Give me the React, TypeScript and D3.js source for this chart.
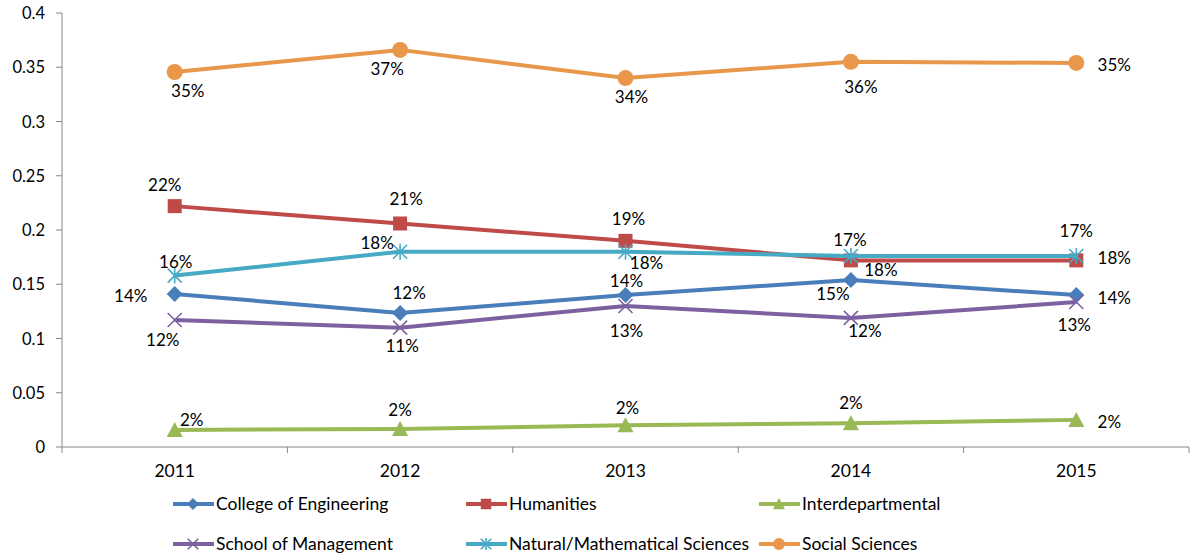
import React from "react";
import * as d3 from "d3";

const years = ["2011", "2012", "2013", "2014", "2015"];
const yTicks = [0, 0.05, 0.1, 0.15, 0.2, 0.25, 0.3, 0.35, 0.4];

const seriesNames = [
  "College of Engineering",
  "Humanities",
  "Interdepartmental",
  "School of Management",
  "Natural/Mathematical Sciences",
  "Social Sciences",
];
const engineering = [0.141, 0.1235, 0.14, 0.154, 0.14];
const humanities = [0.222, 0.206, 0.19, 0.172, 0.172];
const interdepartmental = [0.0157, 0.0166, 0.02, 0.022, 0.025];
const management = [0.117, 0.11, 0.13, 0.119, 0.1336];
const natural = [0.158, 0.18, 0.18, 0.176, 0.176];
const social = [0.3456, 0.366, 0.34, 0.355, 0.354];

const engineeringLabels = ["14%", "12%", "14%", "15%", "14%"];
const humanitiesLabels = ["22%", "21%", "19%", "17%", "17%"];
const interLabels = ["2%", "2%", "2%", "2%", "2%"];
const managementLabels = ["12%", "11%", "13%", "12%", "13%"];
const naturalLabels = ["16%", "18%", "18%", "18%", "18%"];
const socialLabels = ["35%", "37%", "34%", "36%", "35%"];

// label placement offsets (dx, dy) relative to marker, for label centre
const engineeringPos = [[-44, 2], [9, -20], [1, -14], [-18, 14], [38, 3]];
const humanitiesPos = [[-10, -21], [6, -24], [3, -22], [-1, -20], [0, -29]];
const interPos = [[17, -10], [0, -19], [2, -17], [0, -20], [33, 2]];
const managementPos = [[-12, 20], [2, 18], [1, 25], [14, 13], [-2, 23]];
const naturalPos = [[1, -14], [-23, -9], [21, 11], [30, 14], [38, 2]];
const socialPos = [[13, 19], [-13, 19], [6, 19], [10, 25], [38, 2]];

const colors = ["#4A7EBB", "#BE4B48", "#98B954", "#7D60A0", "#46AAC5", "#E8974B"];
const markers = ["diamond", "square", "triangle", "x", "asterisk", "circle"];

const FONT = "Lato, 'Open Sans', sans-serif";

function Marker({ type, x, y, color, s = 1 }: { type: string; x: number; y: number; color: string; s?: number }) {
  const k = (v: number) => v * s;
  switch (type) {
    case "diamond":
      return <path d={`M${x},${y - k(8)}L${x + k(8)},${y}L${x},${y + k(8)}L${x - k(8)},${y}Z`} fill={color} />;
    case "square":
      return <rect x={x - k(7)} y={y - k(7)} width={k(14)} height={k(14)} fill={color} />;
    case "triangle":
      return <path d={`M${x},${y - k(8)}L${x + k(8)},${y + k(7)}L${x - k(8)},${y + k(7)}Z`} fill={color} />;
    case "x":
      return (
        <path
          d={`M${x - k(7)},${y - k(7)}L${x + k(7)},${y + k(7)}M${x - k(7)},${y + k(7)}L${x + k(7)},${y - k(7)}`}
          stroke={color}
          strokeWidth={1.6}
        />
      );
    case "asterisk":
      return (
        <path
          d={`M${x - k(7)},${y - k(7)}L${x + k(7)},${y + k(7)}M${x - k(7)},${y + k(7)}L${x + k(7)},${y - k(7)}M${x},${y - k(8)}L${x},${y + k(8)}`}
          stroke={color}
          strokeWidth={1.6}
        />
      );
    default:
      return <circle cx={x} cy={y} r={k(8)} fill={color} />;
  }
}

export default function App() {
  const width = 1191;
  const height = 560;
  const x0 = 62;
  const x1 = 1189;
  const yScale = d3.scaleLinear().domain([0, 0.4]).range([447, 13]);
  const xBand = d3.scaleBand().domain(years).range([x0, x1]);
  const xc = (y: string) => (xBand(y) as number) + xBand.bandwidth() / 2;

  const allValues = [engineering, humanities, interdepartmental, management, natural, social];
  const allLabels = [engineeringLabels, humanitiesLabels, interLabels, managementLabels, naturalLabels, socialLabels];
  const allPos = [engineeringPos, humanitiesPos, interPos, managementPos, naturalPos, socialPos];

  const line = d3
    .line<number>()
    .x((_, i) => xc(years[i]))
    .y((d) => yScale(d));

  const order = [0, 1, 2, 3, 4, 5];

  const legendX = [173, 466, 759];
  const legendY = [504, 544];

  return (
    <svg width={width} height={height} style={{ position: "absolute", left: 0, top: 0 }} fontFamily={FONT}>
      <rect width={width} height={height} fill="#fff" />
      <line x1={x0} y1={13} x2={x0} y2={447} stroke="#868686" strokeWidth={1} />
      {yTicks.map((t) => (
        <g key={t}>
          <line x1={x0 - 6} x2={x0} y1={yScale(t)} y2={yScale(t)} stroke="#868686" />
          <text x={45} y={yScale(t) + 6} textAnchor="end" fontSize={16.5} fill="#000">
            {String(t)}
          </text>
        </g>
      ))}
      <line x1={x0} y1={447} x2={x1} y2={447} stroke="#868686" />
      {years.map((yr) => (
        <g key={yr}>
          <line
            x1={(xBand(yr) as number) + xBand.bandwidth()}
            x2={(xBand(yr) as number) + xBand.bandwidth()}
            y1={447}
            y2={453}
            stroke="#868686"
          />
          <text x={xc(yr)} y={477} textAnchor="middle" fontSize={17.5} fill="#000">
            {yr}
          </text>
        </g>
      ))}
      <line x1={x0} x2={x0} y1={447} y2={453} stroke="#868686" />
      {order.map((s) => (
        <g key={seriesNames[s]}>
          <path d={line(allValues[s]) as string} fill="none" stroke={colors[s]} strokeWidth={4} strokeLinejoin="round" />
          {allValues[s].map((v, i) => (
            <Marker key={i} type={markers[s]} x={xc(years[i])} y={yScale(v)} color={colors[s]} />
          ))}
        </g>
      ))}
      {order.map((s) =>
        allValues[s].map((v, i) => (
          <text
            key={`${s}-${i}`}
            x={xc(years[i]) + allPos[s][i][0]}
            y={yScale(v) + allPos[s][i][1] + 6}
            textAnchor="middle"
            fontSize={17}
            fill="#000"
          >
            {allLabels[s][i]}
          </text>
        ))
      )}
      {seriesNames.map((name, s) => {
        const lx = legendX[s % 3];
        const ly = legendY[Math.floor(s / 3)];
        return (
          <g key={name}>
            <line x1={lx} x2={lx + 41} y1={ly} y2={ly} stroke={colors[s]} strokeWidth={4} />
            <Marker type={markers[s]} x={lx + 20} y={ly} color={colors[s]} s={0.75} />
            <text x={lx + 43} y={ly + 6} fontSize={17.5} fill="#000">
              {name}
            </text>
          </g>
        );
      })}
    </svg>
  );
}
